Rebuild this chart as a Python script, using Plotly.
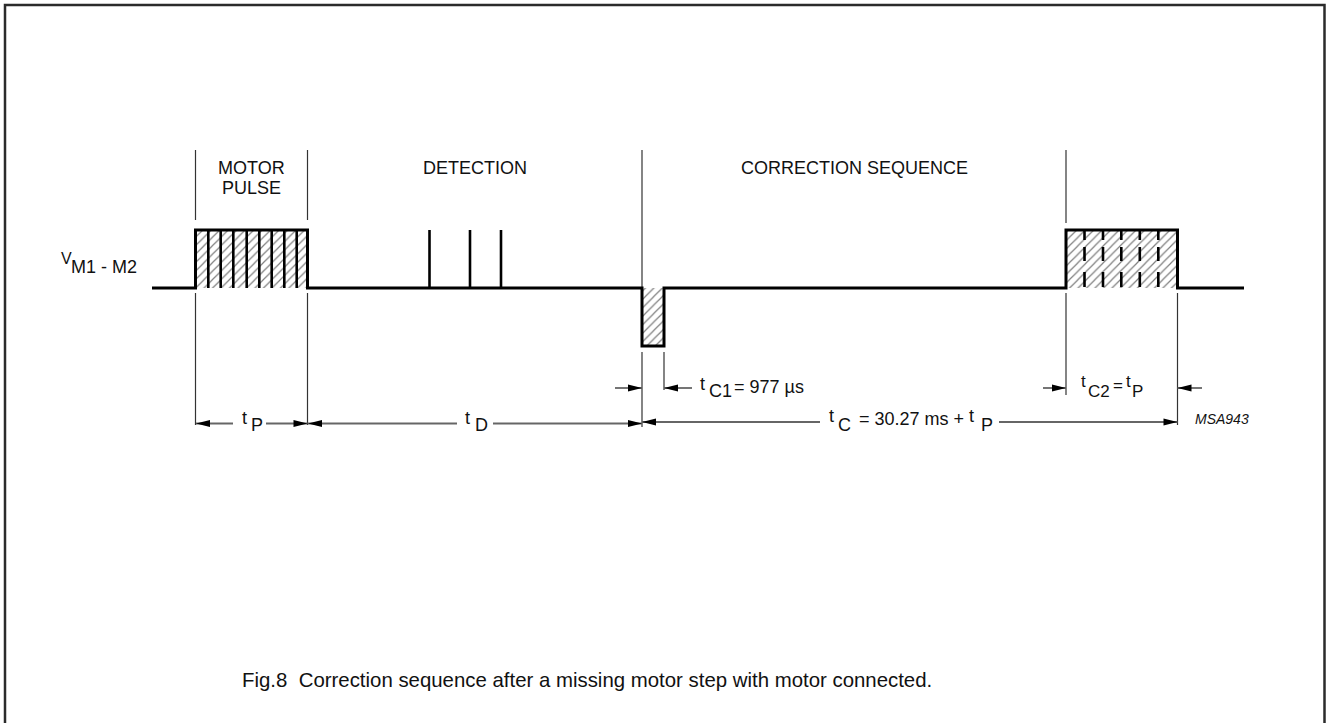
import plotly.graph_objects as go

# ---------------- data (diagram units = pixels of the 1326x723 sheet) ----------------
baseline_x = [152, 1244]
level_low = 288
level_high = 230
level_neg = 346
motor_pulse = [195.5, 307.5]
motor_strokes = [208.3, 220.7, 233.3, 246.7, 259.3, 271.7, 284.3, 296.7]
detect_spikes = [429.5, 470, 501]
neg_pulse = [642, 664]
corr_pulse = [1066, 1177.5]
corr_dashes = [1084.5, 1103, 1121.3, 1139.8, 1158.3]
corr_dash_y0 = [230, 247, 272]
corr_dash_y1 = [240, 261, 287]

section_labels = ["MOTOR", "PULSE", "DETECTION", "CORRECTION SEQUENCE"]
section_label_x = [251.5, 251.5, 475, 854]
section_label_y = [168, 188, 168, 168]

# guide lines: x, y_start, y_end
guide_x = [195.5, 195.5, 307.5, 307.5, 642, 642, 664, 1066, 1066, 1177.5]
guide_y0 = [150, 293, 150, 293, 150, 352, 352, 150, 293, 293]
guide_y1 = [220, 425, 220, 425, 288, 427, 390, 223, 395, 425]

# dimension segments: x0, x1, y, arrow-head end
dim_x0 = [196, 266, 308, 493, 642, 999, 615, 664, 1043, 1177.5]
dim_x1 = [233, 307.5, 457, 642, 820, 1177.5, 642, 692, 1066, 1202]
dim_y = [423.5, 423.5, 423.5, 423.5, 422, 422, 388, 388, 388, 388]
dim_head = ["start", "end", "start", "end", "start", "end", "end", "start", "end", "start"]

# text pieces: text, x-left, y-centre, size
text_t = ["t", "P", "t", "D", "t", "C1", "= 977 µs", "t", "C", "= 30.27 ms +", "t", "P",
          "t", "C2", "=", "t", "P", "V", "M1 - M2", "MSA943"]
text_x = [240, 249, 463, 473, 698, 707, 732, 827, 836, 857, 967, 979,
          1079, 1086, 1111, 1124, 1130, 59, 69, 1193]
text_y = [418, 425, 418, 425, 384, 391, 387, 416, 425, 419, 416, 425,
          381, 391, 385, 381, 391, 258, 267, 419]
text_size = [18, 18, 18, 18, 18, 18, 18, 18, 18, 18, 18, 18,
             17, 17, 17, 17, 17, 16, 18, 14]

caption = "Fig.8  Correction sequence after a missing motor step with motor connected."

FONT = "Liberation Sans, Arial, Helvetica, sans-serif"

fig = go.Figure()


def rect_xy(x0, x1, y0, y1):
    return [x0, x1, x1, x0, x0], [y0, y0, y1, y1, y0]


# hatched fills
for (x0, x1), (ya, yb) in [(motor_pulse, (level_high, level_low)),
                           (neg_pulse, (level_low, level_neg)),
                           (corr_pulse, (level_high, level_low))]:
    xs, ys = rect_xy(x0, x1, ya, yb)
    fig.add_trace(go.Scatter(x=xs, y=ys, mode="lines", fill="toself",
                             line=dict(width=0, color="rgba(0,0,0,0)"),
                             fillcolor="white",
                             fillpattern=dict(shape="/", size=6, solidity=0.2,
                                              fgcolor="#000", bgcolor="white"),
                             hoverinfo="skip", showlegend=False))

# guide lines
gx, gy = [], []
for x, a, b in zip(guide_x, guide_y0, guide_y1):
    gx += [x, x, None]
    gy += [a, b, None]
fig.add_trace(go.Scatter(x=gx, y=gy, mode="lines", line=dict(color="#333", width=1.2),
                         hoverinfo="skip", showlegend=False))

# dimension lines
dx, dy = [], []
for a, b, y in zip(dim_x0, dim_x1, dim_y):
    dx += [a, b, None]
    dy += [y, y, None]
fig.add_trace(go.Scatter(x=dx, y=dy, mode="lines", line=dict(color="#666", width=1.8),
                         hoverinfo="skip", showlegend=False))

# arrow heads
HL, HW = 14, 3.5
shapes = []
for a, b, y, h in zip(dim_x0, dim_x1, dim_y, dim_head):
    if h == "start":
        tip, back = a, a + HL
    else:
        tip, back = b, b - HL
    shapes.append(dict(type="path", xref="x", yref="y",
                       path=f"M {tip},{y} L {back},{y-HW} L {back},{y+HW} Z",
                       fillcolor="black", line=dict(width=0)))

# signal waveform
sx = [baseline_x[0], motor_pulse[0], motor_pulse[0], motor_pulse[1], motor_pulse[1],
      neg_pulse[0], neg_pulse[0], neg_pulse[1], neg_pulse[1],
      corr_pulse[0], corr_pulse[0], corr_pulse[1], corr_pulse[1], baseline_x[1]]
sy = [level_low, level_low, level_high, level_high, level_low,
      level_low, level_neg, level_neg, level_low,
      level_low, level_high, level_high, level_low, level_low]
fig.add_trace(go.Scatter(x=sx, y=sy, mode="lines", line=dict(color="black", width=3),
                         hoverinfo="skip", showlegend=False))

# motor pulse strokes and detection spikes
vx, vy = [], []
for x in motor_strokes:
    vx += [x, x, None]
    vy += [level_high, level_low, None]
for x in detect_spikes:
    vx += [x, x, None]
    vy += [level_high, level_low, None]
fig.add_trace(go.Scatter(x=vx, y=vy, mode="lines", line=dict(color="black", width=2.6),
                         hoverinfo="skip", showlegend=False))

# dashed strokes in the correction pulse
cx, cy = [], []
for x in corr_dashes:
    for a, b in zip(corr_dash_y0, corr_dash_y1):
        cx += [x, x, None]
        cy += [a, b, None]
fig.add_trace(go.Scatter(x=cx, y=cy, mode="lines",
                         line=dict(color="black", width=2.6),
                         hoverinfo="skip", showlegend=False))

# border
shapes.append(dict(type="rect", xref="x", yref="y", x0=5, x1=1324.5, y0=5, y1=740,
                   line=dict(color="#2b2b2b", width=2.5), fillcolor="rgba(0,0,0,0)"))

annotations = []
for t, x, y in zip(section_labels, section_label_x, section_label_y):
    annotations.append(dict(x=x, y=y, text=t, showarrow=False, xanchor="center",
                            yanchor="middle", font=dict(family=FONT, size=18, color="#111")))
for t, x, y, s in zip(text_t, text_x, text_y, text_size):
    txt = f"<i>{t}</i>" if t == "MSA943" else t
    annotations.append(dict(x=x, y=y, text=txt, showarrow=False, xanchor="left",
                            yanchor="middle", font=dict(family=FONT, size=s, color="#111")))
annotations.append(dict(x=240, y=680, text=caption, showarrow=False, xanchor="left",
                        yanchor="middle", font=dict(family=FONT, size=20.4, color="#111")))

fig.update_layout(
    width=1326, height=723, margin=dict(l=0, r=0, t=0, b=0),
    paper_bgcolor="white", plot_bgcolor="white",
    xaxis=dict(range=[0, 1326], visible=False, fixedrange=True),
    yaxis=dict(range=[723, 0], visible=False, fixedrange=True),
    shapes=shapes, annotations=annotations, showlegend=False,
)

fig.write_html("out.html", config={"displayModeBar": False},
               post_script="document.body.style.margin='0';document.body.style.overflow='hidden';")
